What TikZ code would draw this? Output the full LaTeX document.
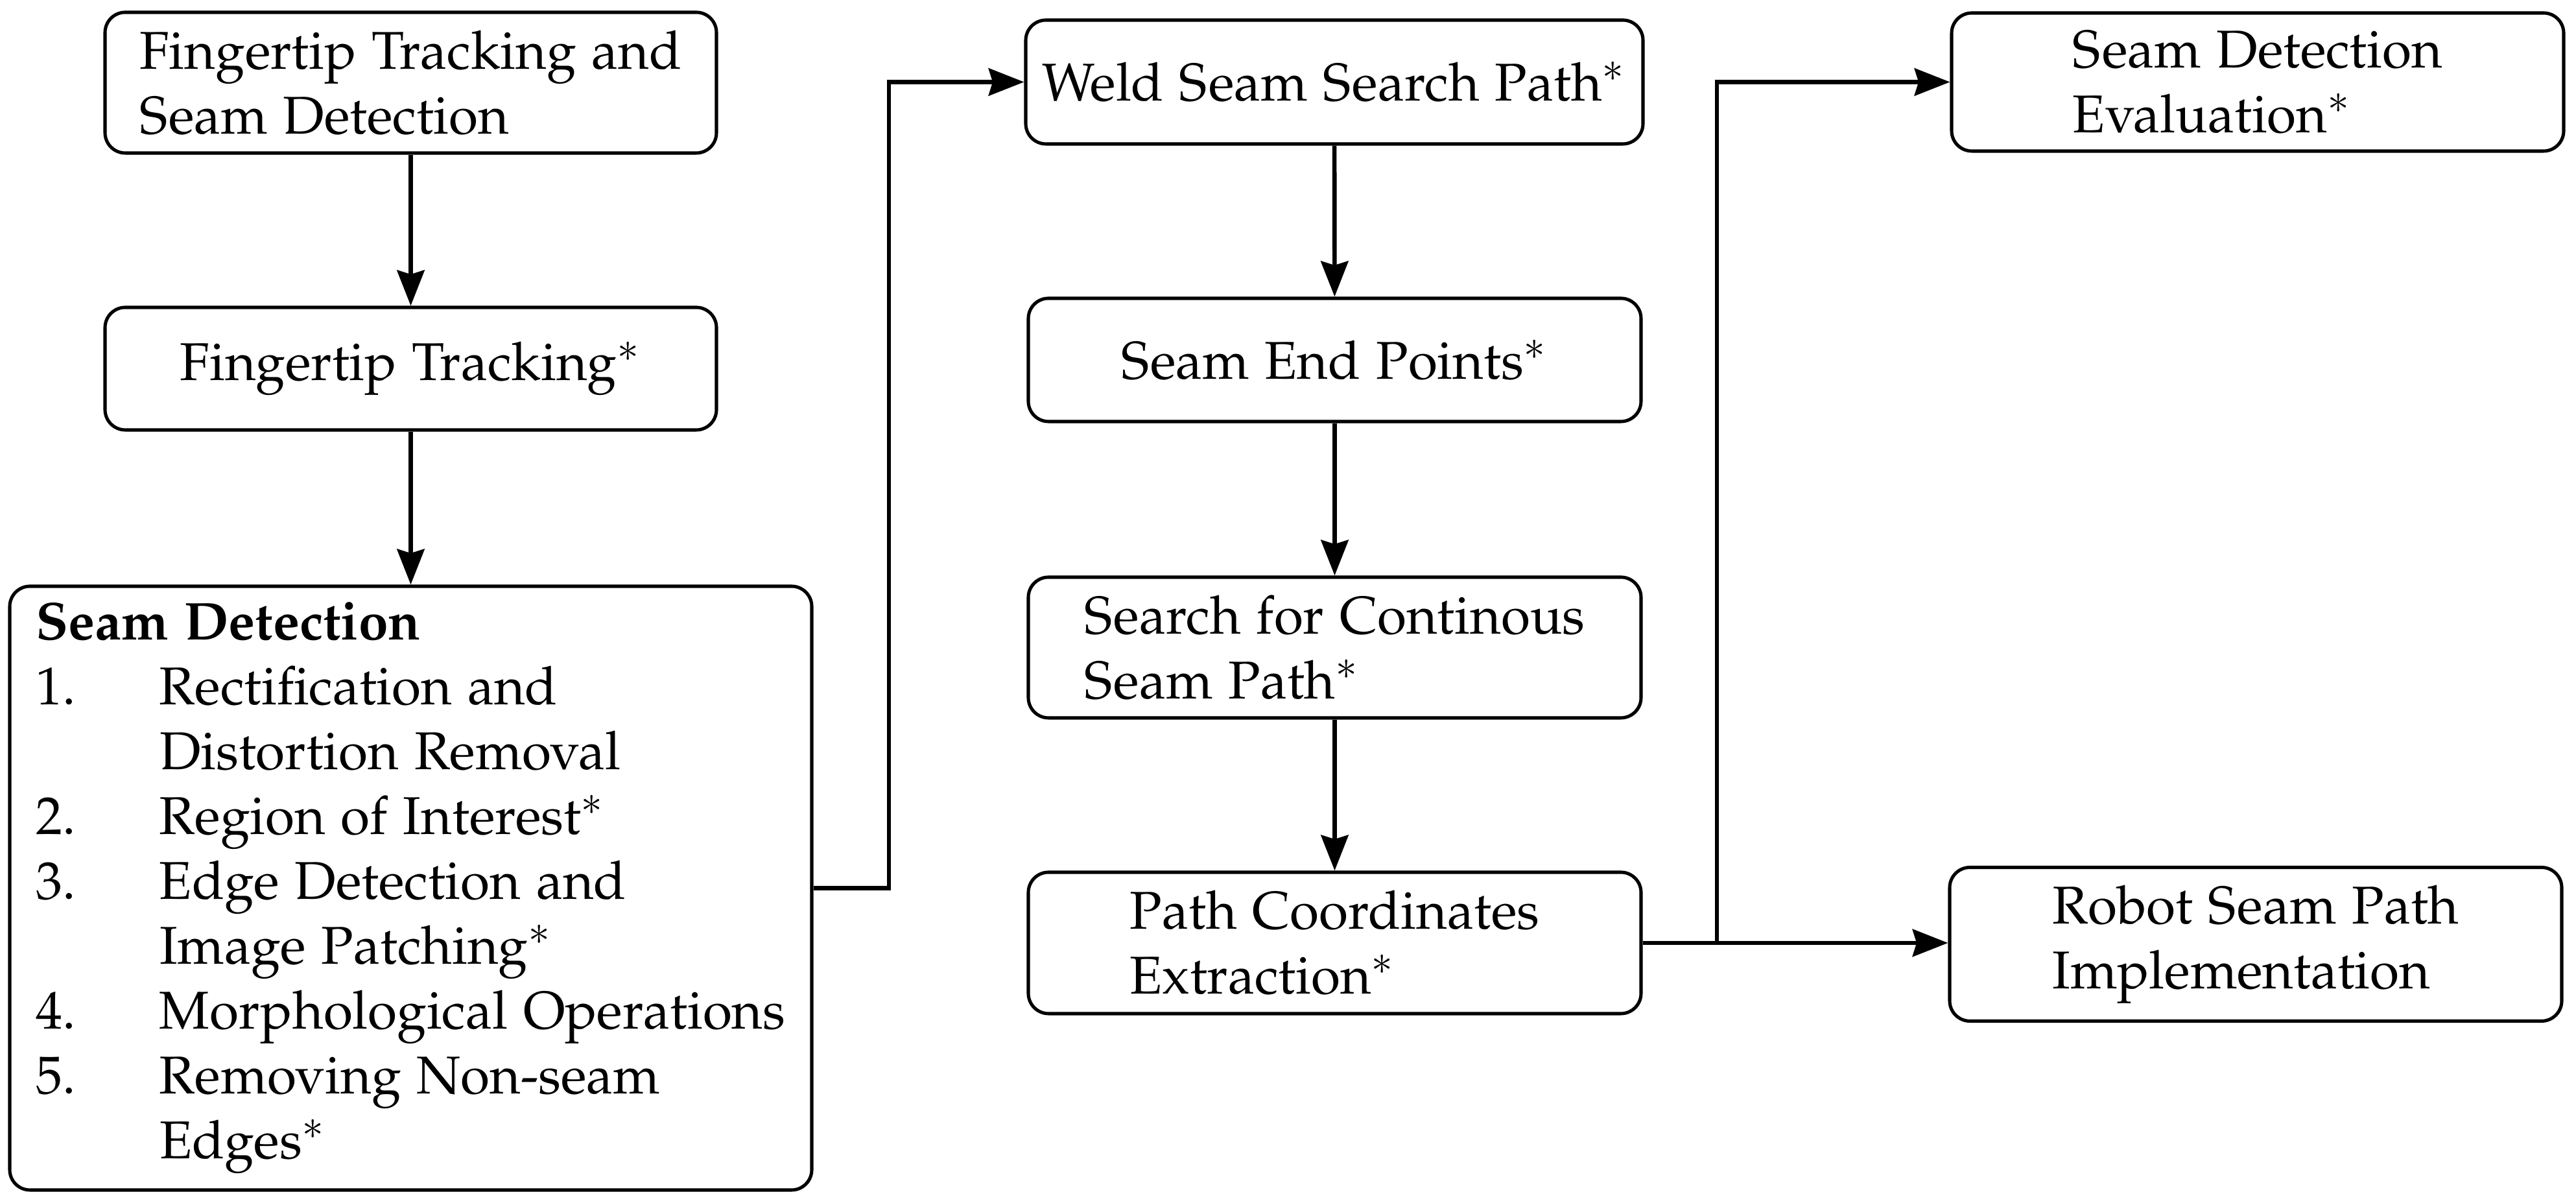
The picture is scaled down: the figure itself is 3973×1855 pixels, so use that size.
\documentclass[tikz,border=0pt]{standalone}
\usepackage[T1]{fontenc}
\usepackage[sc]{mathpazo}
\usetikzlibrary{arrows.meta}
\def\pxu{0.128pt}
\tikzset{
  box/.style={draw, line width=0.65pt, rounded corners=4pt, align=left, inner sep=2pt,
    font=\fontsize{10.5}{12.8}\selectfont},
  conn/.style={line width=0.85pt, -{Stealth[length=7pt,width=5.4pt,inset=0.8pt]}}
}
\newcommand\itm[2]{\makebox[24.4pt][l]{#1}#2}
\newcommand\cnt[1]{\hspace*{24.4pt}#1}
\begin{document}
\begin{tikzpicture}[x=0.128pt,y=-0.128pt]
\useasboundingbox (0,0) rectangle (3973,1855);
\node[box, minimum width=943*\pxu, minimum height=217*\pxu] (A) at (633.5,127.5)
  {Fingertip Tracking and\\Seam Detection};
\node[box, minimum width=943*\pxu, minimum height=189*\pxu] (B) at (633.5,568.5)
  {Fingertip Tracking$^{*}$};
\node[box, minimum width=1237*\pxu, minimum height=931*\pxu] (C) at (633.5,1369.5)
  {\textbf{Seam Detection}\\
   \itm{1.}{Rectification and}\\
   \cnt{Distortion Removal}\\
   \itm{2.}{Region of Interest$^{*}$}\\
   \itm{3.}{Edge Detection and}\\
   \cnt{Image Patching$^{*}$}\\
   \itm{4.}{Morphological Operations}\\
   \itm{5.}{Removing Non-seam}\\
   \cnt{Edges$^{*}$}};
\node[box, minimum width=952*\pxu, minimum height=191*\pxu] (D) at (2058,126.5)
  {Weld Seam Search Path$^{*}$};
\node[box, minimum width=945*\pxu, minimum height=190*\pxu] (E) at (2058.5,555)
  {Seam End Points$^{*}$};
\node[box, minimum width=945*\pxu, minimum height=217*\pxu] (F) at (2058.5,998.5)
  {Search for Continous\\Seam Path$^{*}$};
\node[box, minimum width=945*\pxu, minimum height=218*\pxu] (G) at (2058.5,1454)
  {Path Coordinates\\Extraction$^{*}$};
\node[box, minimum width=944*\pxu, minimum height=213*\pxu] (H) at (3482,126.5)
  {Seam Detection\\Evaluation$^{*}$};
\node[box, minimum width=944*\pxu, minimum height=237*\pxu] (I) at (3479,1456)
  {Robot Seam Path\\Implementation};
\coordinate (c1) at (1371,0);
\coordinate (c2) at (2648,0);
\draw[conn] (A) -- (B);
\draw[conn] (B) -- (C);
\draw[conn] (C.east) -- (C.east -| c1) -- (D.west -| c1) -- (D.west);
\draw[conn] (D) -- (E);
\draw[conn] (E) -- (F);
\draw[conn] (F) -- (G);
\draw[conn] (G.east) -- (G.east -| I.west);
\draw[conn] (G.east -| c2) -- (H.west -| c2) -- (H.west);
\end{tikzpicture}
\end{document}
